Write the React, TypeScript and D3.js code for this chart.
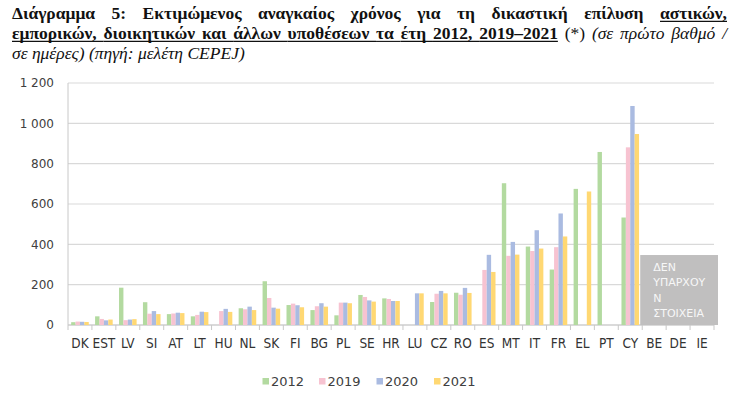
import { useEffect, useRef } from 'react';
import * as d3 from 'd3';

const categories = ['DK', 'EST', 'LV', 'SI', 'AT', 'LT', 'HU', 'NL', 'SK', 'FI', 'BG', 'PL', 'SE', 'HR', 'LU', 'CZ', 'RO', 'ES', 'MT', 'IT', 'FR', 'EL', 'PT', 'CY', 'BE', 'DE', 'IE'];
const seriesNames = ['2012', '2019', '2020', '2021'];
const v2012 = [14, 43, 185, 113, 54, 43, null, 83, 217, 99, 74, 48, 149, 132, null, 114, 160, null, 703, 389, 275, 675, 858, 533, null, null, null];
const v2019 = [17, 30, 24, 56, 57, 50, 69, 78, 134, 106, 93, 111, 139, 129, null, 155, 150, 273, 343, 367, 386, null, null, 881, null, null, null];
const v2020 = [16, 23, 27, 69, 61, 66, 80, 91, 86, 98, 108, 111, 122, 119, 157, 169, 184, 348, 412, 470, 553, null, null, 1086, null, null, null];
const v2021 = [15, 27, 29, 54, 59, 64, 65, 74, 81, 88, 91, 108, 116, 119, 157, 157, 159, 263, 349, 379, 439, 662, null, 947, null, null, null];
const yTicks = [0, 200, 400, 600, 800, 1000, 1200];
const noDataLines = ['ΔΕΝ', 'ΥΠΑΡΧΟΥ', 'Ν', 'ΣΤΟΙΧΕΙΑ'];
const noDataCategories = ['BE', 'DE', 'IE'];

const colors = ['#b3daa0', '#f7c3d1', '#aabbe1', '#ffd873'];

interface Run { text: string; weight?: string; italic?: boolean; underline?: boolean }
const titleLines: { justify: boolean; runs: Run[] }[] = [
  {
    justify: true,
    runs: [
      { text: 'Διάγραμμα 5: Εκτιμώμενος αναγκαίος χρόνος για τη δικαστική επίλυση', weight: 'bold' },
      { text: 'αστικών,', weight: 'bold', underline: true },
    ],
  },
  {
    justify: true,
    runs: [
      { text: 'εμπορικών, διοικητικών και άλλων υποθέσεων τα έτη 2012, 2019–2021', weight: 'bold', underline: true },
      { text: '(*)' },
      { text: '(σε πρώτο βαθμό /', italic: true },
    ],
  },
  {
    justify: false,
    runs: [{ text: 'σε ημέρες) (πηγή: μελέτη CEPEJ)', italic: true }],
  },
];

const W = 734;
const H = 398;

const App = () => {
  const svgRef = useRef<SVGSVGElement>(null);

  useEffect(() => {
    if (!svgRef.current) return;
    const svg = d3.select(svgRef.current);
    svg.selectAll('*').remove();

    const margin = { top: 83, right: 20, bottom: 73, left: 68 };
    const innerW = W - margin.left - margin.right;
    const innerH = H - margin.top - margin.bottom;

    const x = d3.scaleBand().domain(categories).range([0, innerW]).padding(0);
    const x1 = d3.scaleBand().domain(seriesNames).range([0, x.bandwidth()]).paddingInner(0).paddingOuter(0.72);
    const y = d3.scaleLinear().domain([0, 1200]).range([innerH, 0]);

    const fmt = d3.formatLocale({ decimal: ',', thousands: ' ', grouping: [3], currency: ['', ''] }).format(',');

    // ---- title, justified word by word
    const serif = '"Liberation Serif", "Times New Roman", serif';
    const titleSize = 17.5;
    const left = 12;
    const right = 727;
    const baselines = [19, 39, 58.5];
    const tg = svg.append('g').attr('font-family', serif).attr('font-size', titleSize).attr('fill', '#111');

    const measure = tg.append('text').attr('visibility', 'hidden');
    const widthOf = (s: string, r: Run) => {
      measure
        .attr('font-weight', r.weight || 'normal')
        .attr('font-style', r.italic ? 'italic' : 'normal')
        .text(s);
      return (measure.node() as SVGTextElement).getComputedTextLength();
    };

    titleLines.forEach((line, li) => {
      const words: { text: string; run: Run; w: number }[] = [];
      line.runs.forEach((r) => {
        r.text.split(' ').forEach((t) => words.push({ text: t, run: r, w: widthOf(t, r) }));
      });
      const spaceW = widthOf(' ', { text: ' ' }) || titleSize * 0.25;
      const total = d3.sum(words, (d) => d.w);
      const gaps = words.length - 1;
      const gap = line.justify ? (right - left - total) / gaps : spaceW;
      let cx = left;
      words.forEach((wd, i) => {
        tg.append('text')
          .attr('x', cx)
          .attr('y', baselines[li])
          .attr('font-weight', wd.run.weight || 'normal')
          .attr('font-style', wd.run.italic ? 'italic' : 'normal')
          .text(wd.text);
        if (wd.run.underline) {
          const next = words[i + 1];
          const ext = next && next.run.underline ? gap : 0;
          tg.append('line')
            .attr('x1', cx)
            .attr('x2', cx + wd.w + ext)
            .attr('y1', baselines[li] + 2.4)
            .attr('y2', baselines[li] + 2.4)
            .attr('stroke', '#111')
            .attr('stroke-width', 1.1);
        }
        cx += wd.w + gap;
      });
    });
    measure.remove();

    // ---- chart
    const g = svg.append('g').attr('transform', `translate(${margin.left},${margin.top})`);

    g.selectAll('line.grid')
      .data(yTicks)
      .enter()
      .append('line')
      .attr('x1', 0)
      .attr('x2', innerW)
      .attr('y1', (d) => y(d))
      .attr('y2', (d) => y(d))
      .attr('stroke', '#d9d9d9')
      .attr('stroke-width', 1.2);

    // y axis
    g.append('line')
      .attr('x1', 0).attr('x2', 0)
      .attr('y1', 0).attr('y2', innerH)
      .attr('stroke', '#c8c8c8');

    g.append('g')
      .selectAll('text')
      .data(yTicks)
      .enter()
      .append('text')
      .attr('x', -14)
      .attr('y', (d) => y(d))
      .attr('dy', '0.36em')
      .attr('text-anchor', 'end')
      .attr('font-family', '"DejaVu Sans", Verdana, sans-serif')
      .attr('font-size', 12)
      .attr('fill', '#404040')
      .text((d) => fmt(d));

    // x axis with ticks between categories
    g.append('line')
      .attr('x1', 0).attr('x2', innerW)
      .attr('y1', innerH).attr('y2', innerH)
      .attr('stroke', '#c8c8c8');
    g.selectAll('line.xtick')
      .data(d3.range(categories.length + 1))
      .enter()
      .append('line')
      .attr('x1', (i) => i * x.step())
      .attr('x2', (i) => i * x.step())
      .attr('y1', innerH)
      .attr('y2', innerH + 5)
      .attr('stroke', '#c8c8c8');

    g.append('g')
      .selectAll('text')
      .data(categories)
      .enter()
      .append('text')
      .attr('x', (d) => (x(d) || 0) + x.bandwidth() / 2)
      .attr('y', innerH + 23)
      .attr('text-anchor', 'middle')
      .attr('font-family', '"Liberation Sans Narrow", "DejaVu Sans Condensed", sans-serif')
      .attr('font-stretch', 'condensed')
      .attr('font-size', 13.5)
      .attr('fill', '#333')
      .text((d) => d);

    // bars
    const allSeries = [v2012, v2019, v2020, v2021];
    allSeries.forEach((vals, si) => {
      const rows = categories.map((c, i) => ({ c, v: vals[i] })).filter((d) => d.v != null) as { c: string; v: number }[];
      g.append('g')
        .selectAll('rect')
        .data(rows)
        .enter()
        .append('rect')
        .attr('x', (d) => (x(d.c) || 0) + (x1(seriesNames[si]) || 0))
        .attr('width', x1.bandwidth())
        .attr('y', (d) => y(d.v))
        .attr('height', (d) => innerH - y(d.v))
        .attr('fill', colors[si]);
    });

    // "no data" box over BE, DE, IE
    const bx = (x(noDataCategories[0]) || 0) - 2;
    const boxTop = y(347);
    g.append('rect')
      .attr('x', bx)
      .attr('y', boxTop)
      .attr('width', innerW - bx + 4)
      .attr('height', innerH - boxTop)
      .attr('fill', '#c0bfbf');
    g.append('g')
      .selectAll('text')
      .data(noDataLines)
      .enter()
      .append('text')
      .attr('x', bx + 13)
      .attr('y', (_, i) => boxTop + 16 + i * 15.4)
      .attr('font-family', '"DejaVu Sans", sans-serif')
      .attr('font-size', 11)
      .attr('fill', '#f7f7f7')
      .text((d) => d);

    // legend
    const legendX = [262.5, 319, 376.5, 434];
    const lg = svg.append('g');
    seriesNames.forEach((s, i) => {
      lg.append('rect')
        .attr('x', legendX[i])
        .attr('y', 378)
        .attr('width', 6.5)
        .attr('height', 6.5)
        .attr('fill', colors[i]);
      lg.append('text')
        .attr('x', legendX[i] + 8.5)
        .attr('y', 386)
        .attr('font-family', '"DejaVu Sans", Verdana, sans-serif')
        .attr('font-size', 13)
        .attr('fill', '#404040')
        .text(s);
    });
  }, []);

  return (
    <svg
      ref={svgRef}
      width={W}
      height={H}
      style={{ position: 'absolute', left: 0, top: 0, background: '#fff' }}
    />
  );
};

export default App;
